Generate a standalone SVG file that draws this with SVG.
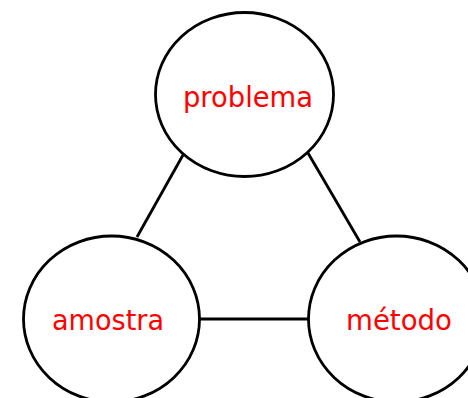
<svg xmlns="http://www.w3.org/2000/svg" width="468" height="398" viewBox="0 0 468 398">
<style>
.n{fill:#fff;stroke:#000;stroke-width:2.8}
.t{font-family:"DejaVu Sans",sans-serif;font-size:28px;fill:#ff0000;text-anchor:middle}
.c{stroke:#000;stroke-width:2.8;fill:none}
</style>
<rect width="468" height="398" fill="#fff"/>
<g id="connectors">
<line class="c" x1="183" y1="155" x2="137" y2="237"/>
<line class="c" x1="308" y1="153" x2="360" y2="242"/>
<line class="c" x1="200" y1="319" x2="308" y2="319" stroke-width="3.5"/>
</g>
<g id="problema">
<ellipse class="n" cx="244.5" cy="94.5" rx="89" ry="82"/>
<text class="t" x="248" y="107" textLength="130" lengthAdjust="spacingAndGlyphs">problema</text>
</g>
<g id="amostra">
<ellipse class="n" cx="111.5" cy="319" rx="88" ry="83"/>
<text class="t" x="108" y="330" textLength="112" lengthAdjust="spacingAndGlyphs">amostra</text>
</g>
<g id="metodo">
<ellipse class="n" cx="396.5" cy="319" rx="88" ry="83"/>
<text class="t" x="399" y="330" textLength="106" lengthAdjust="spacingAndGlyphs">método</text>
</g>
</svg>
